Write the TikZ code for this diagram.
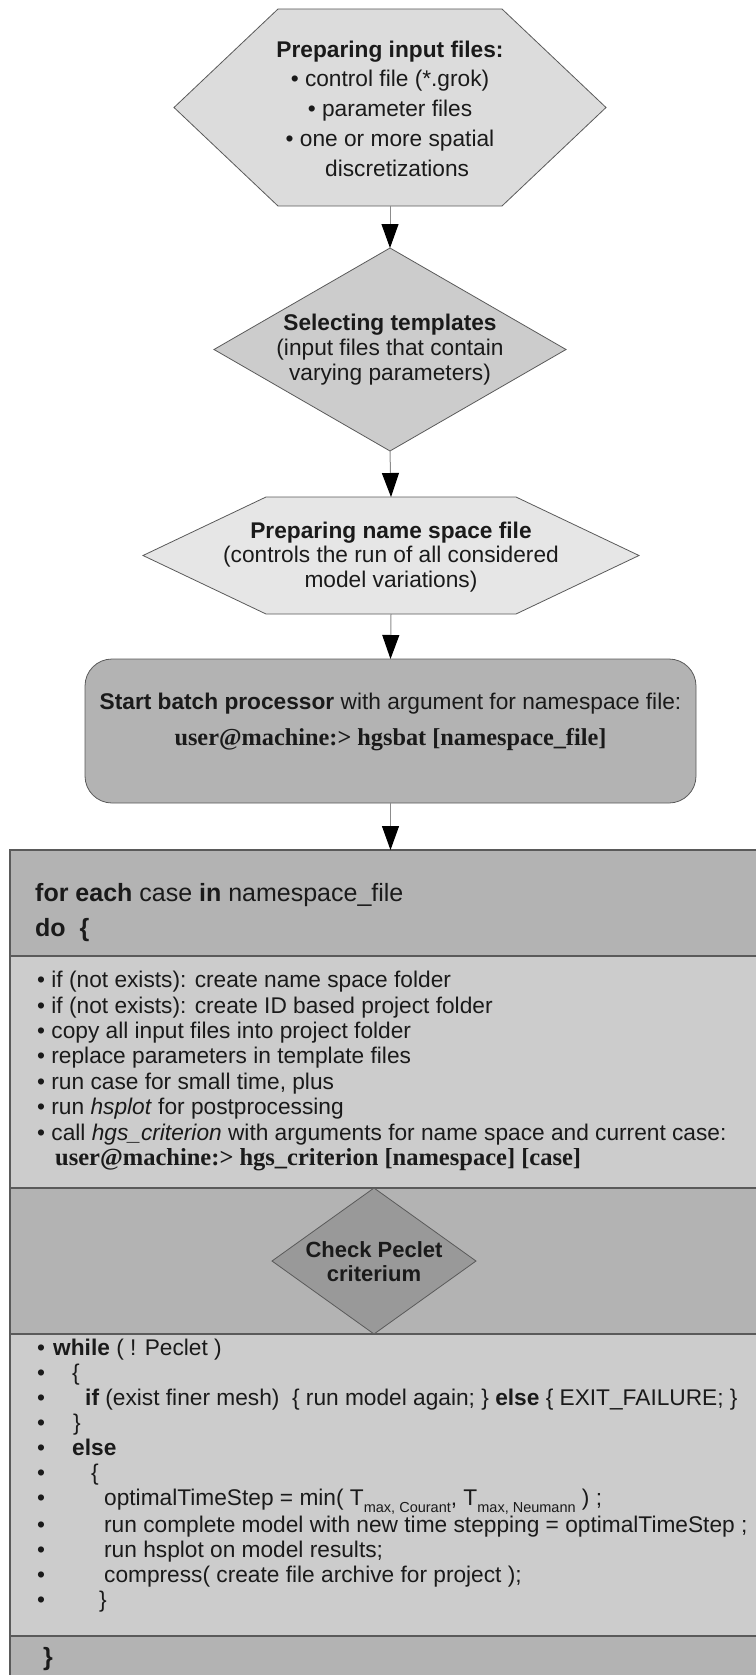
\documentclass[tikz,border=0pt]{standalone}
\usepackage{fontspec}
\setmainfont{Liberation Sans}
\newfontfamily\shellfont{Liberation Serif}
\usetikzlibrary{arrows.meta,shapes.geometric,backgrounds,calc,positioning}

\definecolor{inkgray}{HTML}{1A1A1A}
\definecolor{edgegray}{HTML}{5A5A5A}
\definecolor{arrowgray}{HTML}{8C8C8C}
\definecolor{fillA}{HTML}{DCDCDC}
\definecolor{fillB}{HTML}{CCCCCC}
\definecolor{fillC}{HTML}{E6E6E6}
\definecolor{fillD}{HTML}{B3B3B3}
\definecolor{fillE}{HTML}{999999}

% bullet followed by an indent of #1
\newcommand{\bl}[1]{\makebox[#1][l]{•}}
\newcommand{\lowsub}[1]{\raisebox{-7pt}[0pt][0pt]{\fontsize{14.5}{14.5}\selectfont #1}}
\newcommand{\shell}[1]{{\shellfont\bfseries #1}}

\begin{document}
\begin{tikzpicture}[x=1pt,y=-1pt,
		flowtext/.style={font=\fontsize{22.7}{25}\selectfont, text=inkgray, align=center, inner sep=0pt},
		listtext/.style={font=\fontsize{22.7}{25.4}\selectfont, text=inkgray, align=left, inner sep=0pt, anchor=west},
		body/.style={rectangle, draw=none, inner sep=0pt, outer sep=0pt},
		decision/.style={diamond, draw=edgegray, fill=#1, inner sep=0pt, outer sep=0pt},
		section/.style={rectangle, draw=edgegray, line width=1.2pt, fill=#1, inner sep=0pt, outer sep=0pt, minimum width=750pt},
		hexa/.style={fill=#1, draw=edgegray, line width=0.8pt},
		flow/.style={draw=arrowgray, line width=1pt, -{Triangle[length=24pt, width=17pt, color=black]}}
		]
	\useasboundingbox (0,0) rectangle (755,1675);

	% --- Flowchart above the loop ---
	\node[body, minimum width=224pt, minimum height=197pt] (prep) at (390,107.5) {};
	\node[flowtext, font=\fontsize{22.7}{29.7}\selectfont] (prep-txt) at (390,108.5)
		{\textbf{Preparing input files:}\\ • control file (*.grok)\\ • parameter files\\ • one or more spatial\\ \hphantom{• }discretizations};

	\node[decision=fillB, draw=edgegray, line width=0.8pt, minimum width=352pt, minimum height=203pt] (sel) at (390,349.5) {};
	\node[flowtext] (sel-txt) at (390,350)
		{\textbf{Selecting templates}\\ (input files that contain\\ varying parameters)};

	\node[body, minimum width=250pt, minimum height=117pt] (nsf) at (391,555.5) {};
	\node[flowtext, font=\fontsize{22.7}{24.3}\selectfont] (nsf-txt) at (391,557)
		{\textbf{Preparing name space file}\\ (controls the run of all considered\\ model variations)};

	\node[body, draw=edgegray, line width=0.8pt, fill=fillD, rounded corners=27pt, minimum width=611pt, minimum height=144pt] (batch) at (390.5,731) {};
	\node[flowtext, font=\fontsize{22.7}{36}\selectfont] (batch-txt) at (390.5,722)
		{\textbf{Start batch processor} with argument for namespace file:\\ {\fontsize{24.3}{36}\selectfont\shell{user@machine:> hgsbat [namespace\_file]}}};

	\begin{scope}[on background layer]
		\path[hexa=fillA] (prep.north west) -- (prep.north east) -- ($(prep.east)+(104,0)$)
			-- (prep.south east) -- (prep.south west) -- ($(prep.west)+(-104,0)$) -- cycle;
		\path[hexa=fillC] (nsf.north west) -- (nsf.north east) -- ($(nsf.east)+(123,0)$)
			-- (nsf.south east) -- (nsf.south west) -- ($(nsf.west)+(-123,0)$) -- cycle;
	\end{scope}

	% --- The loop over the cases ---
	\node[section=fillD, minimum height=106pt, anchor=north west] (loophead) at (10,850) {};
	\node[section=fillB, minimum height=232pt, below=0pt of loophead] (steps) {};
	\node[section=fillD, minimum height=146pt, below=0pt of steps] (check) {};
	\node[section=fillB, minimum height=302pt, below=0pt of check] (loopbody) {};
	\node[section=fillD, minimum height=50pt, below=0pt of loopbody] (loopend) {};

	\node[listtext, font=\fontsize{25}{35}\selectfont] (head-txt) at (35,912.5)
		{\textbf{for each} case \textbf{in} namespace\_file\\ \textbf{do\ \ \{}};

	\node[listtext] (steps-txt) at (37,1071)
		{• if (not exists): create name space folder\\
		 • if (not exists): create ID based project folder\\
		 • copy all input files into project folder\\
		 • replace parameters in template files\\
		 • run case for small time, plus\\
		 • run \textit{hsplot} for postprocessing\\
		 • call \textit{hgs\_criterion} with arguments for name space and current case:\\
		 \hspace*{18pt}{\fontsize{24.5}{25.4}\selectfont\shell{user@machine:> hgs\_criterion [namespace] [case]}}};

	\node[decision=fillE, line width=0.8pt, minimum width=204pt, minimum height=146pt] (peclet) at (374,1261) {};
	\node[flowtext, font=\fontsize{22}{24}\selectfont\bfseries] (peclet-txt) at (374,1262)
		{Check Peclet\\ criterium};

	\node[listtext, font=\fontsize{22.7}{25}\selectfont] (body-txt) at (37,1476)
		{\bl{16pt}\textbf{while} ( ! Peclet )\\
		 \bl{35pt}\{\\
		 \bl{48pt}\textbf{if} (exist finer mesh)\ \ \{ run model again; \} \textbf{else} \{ EXIT\_FAILURE; \}\\
		 \bl{36pt}\}\\
		 \bl{35pt}\textbf{else}\\
		 \bl{54pt}\{\\
		 \bl{67pt}optimalTimeStep = min( T\lowsub{max, Courant}, T\lowsub{max, Neumann} ) ;\\[2pt]
		 \bl{67pt}run complete model with new time stepping = optimalTimeStep ;\\
		 \bl{67pt}run hsplot on model results;\\
		 \bl{67pt}compress( create file archive for project );\\
		 \bl{62pt}\}};

	\node[listtext, font=\fontsize{25}{25}\selectfont\bfseries] (end-txt) at (43,1659) {\}};

	% --- Connectors ---
	\draw[flow] (prep.south) -- (sel.north);
	\draw[flow] (sel.south) -- (nsf.north);
	\draw[flow] (nsf.south) -- (batch.north);
	\draw[flow] (batch.south) -- (batch.south |- loophead.north);

\end{tikzpicture}
\end{document}
